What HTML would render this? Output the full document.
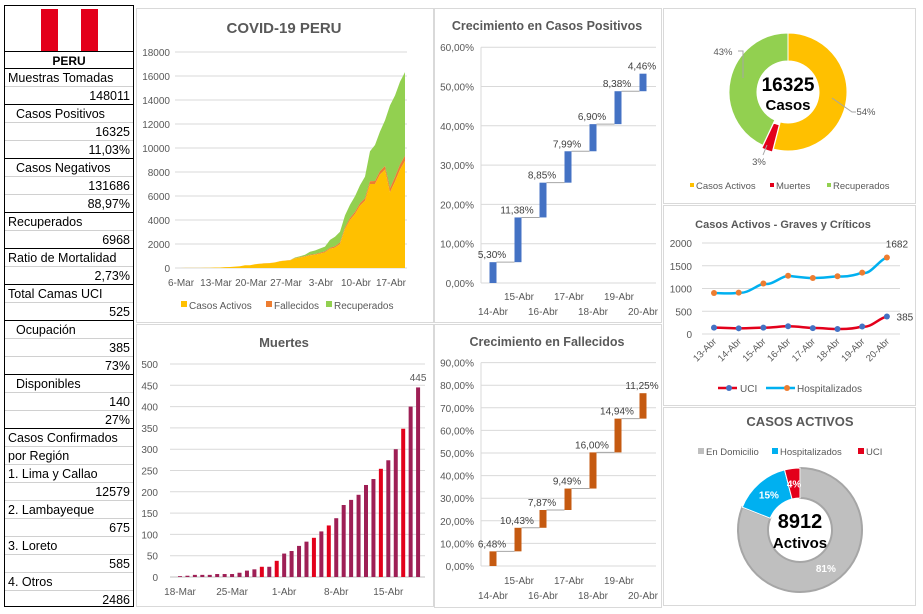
<!DOCTYPE html>
<html><head><meta charset="utf-8">
<style>
body{margin:0;width:923px;height:614px;background:#fff;overflow:hidden;font-family:"Liberation Sans",sans-serif;position:relative}
#tbl{position:absolute;left:4px;top:5px;width:130px;height:602px;border:1px solid #000;box-sizing:border-box}
.r{position:absolute;left:0;width:128px;height:18px;font-size:12.5px;line-height:18px;color:#000;box-sizing:border-box;padding:0 3px;border-top:1px solid #d0d0d0;white-space:nowrap}
.r.t{border-top:1.5px solid #000}
.r.v{text-align:right}
.r.i{padding-left:11px}
svg{position:absolute;left:0;top:0}
</style></head><body>
<div id="tbl">
  <div style="position:absolute;left:36px;top:3px;width:17px;height:42px;background:#e3001b"></div>
  <div style="position:absolute;left:53px;top:3px;width:23px;height:42px;background:#fff"></div>
  <div style="position:absolute;left:76px;top:3px;width:17px;height:42px;background:#e3001b"></div>
  <div class="r t" style="top:45px;text-align:center;font-weight:bold;font-size:12px">PERU</div>
</div>
<svg id="s" width="923" height="614"></svg>
<script>
const tableRows=[["Muestras Tomadas","t"],["148011","v"],["Casos Positivos","ti"],["16325","v"],["11,03%","v"],["Casos Negativos","ti"],["131686","v"],["88,97%","v"],["Recuperados","t"],["6968","v"],["Ratio de Mortalidad","t"],["2,73%","v"],["Total Camas UCI","t"],["525","v"],["Ocupación","ti"],["385","v"],["73%","v"],["Disponibles","ti"],["140","v"],["27%","v"],["Casos Confirmados","t"],["por Región","n"],["1. Lima y Callao","n"],["12579","v"],["2. Lambayeque","n"],["675","v"],["3. Loreto","n"],["585","v"],["4. Otros","n"],["2486","v"]];
const tbl=document.getElementById('tbl');
tableRows.forEach((r,i)=>{const d=document.createElement('div');
d.className='r'+(r[1].includes('t')?' t':'')+(r[1]==='v'?' v':'')+(r[1].includes('i')?' i':'');
d.style.top=(62+i*18)+'px';d.textContent=r[0];


tbl.appendChild(d);});

// ---------- data ----------
const areaDates=["6-Mar","13-Mar","20-Mar","27-Mar","3-Abr","10-Abr","17-Abr"];
const active=[1,6,7,9,11,17,22,38,43,71,85,116,143,230,227,310,355,385,405,465,560,610,640,800,880,950,1050,1100,1200,1300,1600,1700,2000,3250,4000,4500,5200,5600,7000,7000,7800,8200,6300,7200,8200,8912];
const fallecidos=[0,0,0,0,0,0,0,0,0,0,0,0,2,3,5,5,5,7,7,7,10,15,18,24,24,38,55,61,73,83,92,107,121,138,169,181,193,216,230,254,274,300,348,380,420,445];
const recuperados=[0,0,0,0,0,0,0,0,0,0,0,0,0,0,0,0,0,0,0,0,0,0,0,50,80,120,250,300,350,400,650,800,900,1000,1100,1300,1500,1800,2500,3000,3300,3800,6900,6800,6900,6968];
const areaTicks=[0,2000,4000,6000,8000,10000,12000,14000,16000,18000];

const deathDates=["18-Mar","25-Mar","1-Abr","8-Abr","15-Abr"];
const deaths=[2,3,5,5,5,7,7,7,10,15,18,24,24,38,55,61,73,83,92,107,121,138,169,181,193,216,230,254,274,300,348,400,445];
const deathRed=[0,0,0,0,0,0,0,0,0,0,0,1,0,1,0,0,0,0,1,0,1,0,0,0,0,0,0,1,0,0,1,0,0];
const deathTicks=[0,50,100,150,200,250,300,350,400,450,500];

const wfDates=["14-Abr","15-Abr","16-Abr","17-Abr","18-Abr","19-Abr","20-Abr"];
const posGrowth=[5.30,11.38,8.85,7.99,6.90,8.38,4.46];
const posTicks=[0,10,20,30,40,50,60];
const deadGrowth=[6.48,10.43,7.87,9.49,16.00,14.94,11.25];
const deadTicks=[0,10,20,30,40,50,60,70,80,90];

const pieLabels=["Casos Activos","Muertes","Recuperados"];
const pieValues=[54,3,43];
const pieColors=["#ffc000","#e3001b","#92d050"];

const lineDates=["13-Abr","14-Abr","15-Abr","16-Abr","17-Abr","18-Abr","19-Abr","20-Abr"];
const uci=[140,125,140,170,130,110,165,385];
const hosp=[900,910,1110,1280,1230,1270,1350,1682];
const lineTicks=[0,500,1000,1500,2000];

const actLabels=["En Domicilio","Hospitalizados","UCI"];
const actValues=[81,15,4];
const actColors=["#bfbfbf","#00b0f0","#e3001b"];

// ---------- helpers ----------
const S=document.getElementById('s');const NS='http://www.w3.org/2000/svg';
function el(tag,attrs,name,txt){const e=document.createElementNS(NS,tag);
for(const k in attrs)e.setAttribute(k,attrs[k]);


if(txt!==undefined)e.textContent=txt;S.appendChild(e);return e;}
function txt(x,y,s,size,anchor,name,extra){return el('text',Object.assign({x:x,y:y,'font-size':size,'text-anchor':anchor||'middle',fill:'#595959','font-family':'Liberation Sans, sans-serif'},extra||{}),name,s);}
function fmtPct(v){return v.toFixed(2).replace('.',',')+'%';}

// panels
[[136,8,297,314],[136,324,297,282],[434,8,227,314],[434,324,227,283],[663,8,252,195],[663,205,252,200],[663,407,252,198]].forEach(p=>{
el('rect',{x:p[0]+.5,y:p[1]+.5,width:p[2],height:p[3],fill:'#fff',stroke:'#d9d9d9'},'chart-panel');});

// ---------- area chart ----------
(function(){const x0=180,dx=5,y0=268,ky=24/2000;
const X=i=>x0+i*dx,Y=v=>y0-v*ky;
txt(284,33,'COVID-19 PERU',15,'middle','area-chart-title',{'font-weight':'bold'});
areaTicks.forEach(t=>{el('line',{x1:175,x2:407,y1:Y(t),y2:Y(t),stroke:'#d9d9d9'},'y-gridline');
txt(170,Y(t)+4,String(t),10,'end','y-tick-label');});
const n=active.length;const c1=[],c2=[],c3=[];
for(let i=0;i<n;i++){c1.push(active[i]);c2.push(active[i]+fallecidos[i]);c3.push(active[i]+fallecidos[i]+recuperados[i]);}
function band(top,bot,color,name){let d='M'+X(0)+','+Y(top[0]);for(let i=1;i<n;i++)d+='L'+X(i)+','+Y(top[i]);
for(let i=n-1;i>=0;i--)d+='L'+X(i)+','+Y(bot?bot[i]:0);el('path',{d:d+'Z',fill:color},name);}
band(c3,c2,'#92d050','area-recuperados');band(c2,c1,'#ed7d31','area-fallecidos');band(c1,null,'#ffc000','area-casos-activos');
areaDates.forEach((d,i)=>txt(X(i*7)+1,286,d,10,'middle','x-tick-label'));
[[181,'#ffc000','Casos Activos'],[266,'#ed7d31','Fallecidos'],[326,'#92d050','Recuperados']].forEach(l=>{
el('rect',{x:l[0],y:301,width:6,height:6,fill:l[1]},'legend-swatch');txt(l[0]+8,309,l[2],10,'start','legend-entry');});
})();

// ---------- deaths bar ----------
(function(){const x0=180,dx=7.44,y0=577,ky=21.3/50;
const X=i=>x0+i*dx,Y=v=>y0-v*ky;
txt(284,347,'Muertes',13,'middle','deaths-chart-title',{'font-weight':'bold'});
deathTicks.forEach(t=>{if(t>0)el('line',{x1:170,x2:425,y1:Y(t),y2:Y(t),stroke:'#d9d9d9'},'y-gridline');
txt(158,Y(t)+4,String(t),10,'end','y-tick-label');});
el('line',{x1:170,x2:425,y1:y0,y2:y0,stroke:'#bfbfbf'},'x-axis');
deaths.forEach((v,i)=>el('rect',{x:X(i)-2,y:Y(v),width:4,height:v*ky,fill:deathRed[i]?'#e3001b':'#9e1f55'},'death-bar'));
txt(X(deaths.length-1),381,String(deaths[deaths.length-1]),10,'middle','last-value-label');
deathDates.forEach((d,i)=>txt(X(i*7),595,d,10,'middle','x-tick-label'));
})();

// ---------- waterfalls ----------
function waterfall(vals,ticks,title,tY,y0,k,color,lblY1,name){
const X=i=>493+i*25,Y=v=>y0-v*k;
txt(547,tY,title,12.5,'middle',name+'-title',{'font-weight':'bold'});
ticks.forEach(t=>{el('line',{x1:481,x2:656,y1:Y(t),y2:Y(t),stroke:'#d9d9d9'},'y-gridline');
txt(474,Y(t)+4,t.toFixed(2).replace('.',',')+'%',10,'end','y-tick-label');});
el('line',{x1:481,x2:481,y1:Y(ticks[ticks.length-1]),y2:y0,stroke:'#d9d9d9'},'y-axis');
let cum=0;vals.forEach((v,i)=>{const b=cum;cum+=v;
el('rect',{x:X(i)-3.5,y:Y(cum),width:7,height:v*k,fill:color},name+'-bar');
if(i<vals.length-1)el('line',{x1:X(i)+3.5,x2:X(i+1)-3.5,y1:Y(cum),y2:Y(cum),stroke:'#a6a6a6'},'connector');
txt(X(i)-1,Y(cum)-4,fmtPct(v),10,'middle','value-label',{fill:'#404040'});});
wfDates.forEach((d,i)=>txt(X(i)+(i%2?1:0),i%2?lblY1:lblY1+15,d,10,'middle','x-tick-label'));}
waterfall(posGrowth,posTicks,'Crecimiento en Casos Positivos',30,283,3.93,'#4472c4',300,'positivos');
waterfall(deadGrowth,deadTicks,'Crecimiento en Fallecidos',346,566,2.26,'#c55a11',584,'fallecidos');

// ---------- donuts ----------
function arc(cx,cy,r0,r1,a0,a1){const p=(r,a)=>[cx+r*Math.sin(a),cy-r*Math.cos(a)];const L=a1-a0>Math.PI?1:0;
const A=p(r1,a0),B=p(r1,a1),C=p(r0,a1),D=p(r0,a0);
return 'M'+A+'A'+r1+','+r1+' 0 '+L+' 1 '+B+'L'+C+'A'+r0+','+r0+' 0 '+L+' 0 '+D+'Z';}
(function(){const cx=788,cy=92;let a=0;const tot=pieValues.reduce((s,v)=>s+v,0);
pieValues.forEach((v,i)=>{const a1=a+v/tot*2*Math.PI;let ox=0,oy=0;
if(i===1){const m=(a+a1)/2;ox=3*Math.sin(m);oy=-3*Math.cos(m);}
el('path',{d:arc(cx+ox,cy+oy,31,59,a,a1),fill:pieColors[i],stroke:'#fff','stroke-width':1},'pie-slice');a=a1;});
txt(cx,91,'16325',19,'middle','donut-center-value',{'font-weight':'bold',fill:'#000'});
txt(cx,110,'Casos',15,'middle','donut-center-label',{'font-weight':'bold',fill:'#000'});
txt(723,55,pieValues[2]+'%',9.5,'middle','slice-label');
el('polyline',{points:'738,51 743,51 743,78',fill:'none',stroke:'#a6a6a6'},'leader-line');
txt(866,115,pieValues[0]+'%',9.5,'middle','slice-label');
el('polyline',{points:'832,98 852,112 856,112',fill:'none',stroke:'#a6a6a6'},'leader-line');
txt(759,165,pieValues[1]+'%',9.5,'middle','slice-label');
el('line',{x1:763,y1:155,x2:767,y2:145,stroke:'#a6a6a6'},'leader-line');
[[690,0],[770,1],[827,2]].forEach(l=>{el('rect',{x:l[0],y:183,width:4,height:4,fill:pieColors[l[1]]},'legend-swatch');
txt(l[0]+6,189,pieLabels[l[1]],9.5,'start','legend-entry');});
})();
(function(){const cx=800,cy=530;let a=0;const tot=actValues.reduce((s,v)=>s+v,0);
const lp=[[0.55,48],[0.5,46],[0.5,46]];
actValues.forEach((v,i)=>{const a1=a+v/tot*2*Math.PI;
el('path',{d:arc(cx,cy,32,62,a,a1),fill:actColors[i],stroke:i===0?'#a6a6a6':'#fff','stroke-width':i===0?2:1},'active-slice');
const m=(a+a1)/2;const r=i===0?46:47;
txt(cx+r*Math.sin(m),cy-r*Math.cos(m)+4,v+'%',10,'middle','slice-label',{fill:'#fff','font-weight':'bold'});a=a1;});
txt(800,426,'CASOS ACTIVOS',13,'middle','active-chart-title',{'font-weight':'bold'});
txt(cx,528,'8912',20,'middle','donut-center-value',{'font-weight':'bold',fill:'#000'});
txt(cx,548,'Activos',15,'middle','donut-center-label',{'font-weight':'bold',fill:'#000'});
[[698,0],[772,1],[858,2]].forEach(l=>{el('rect',{x:l[0],y:448,width:6,height:6,fill:actColors[l[1]]},'legend-swatch');
txt(l[0]+8,455,actLabels[l[1]],9.5,'start','legend-entry');});
})();

// ---------- lines ----------
(function(){const x0=714,dx=24.7,y0=334,ky=22.75/500;
const X=i=>x0+i*dx,Y=v=>y0-v*ky;
txt(783,228,'Casos Activos - Graves y Críticos',11,'middle','line-chart-title',{'font-weight':'bold'});
lineTicks.forEach(t=>{el('line',{x1:702,x2:900,y1:Y(t),y2:Y(t),stroke:'#d9d9d9'},'y-gridline');
txt(692,Y(t)+4,String(t),10,'end','y-tick-label');});
function smooth(vals){let d='M'+X(0)+','+Y(vals[0]);for(let i=0;i<vals.length-1;i++){
const p0=i?vals[i-1]:vals[i],p3=i+2<vals.length?vals[i+2]:vals[i+1];
const c1y=Y(vals[i])-(Y(vals[i+1])-Y(p0))/6,c2y=Y(vals[i+1])-(Y(p3)-Y(vals[i]))/6;
d+='C'+(X(i)+dx/3)+','+c1y+' '+(X(i+1)-dx/3)+','+c2y+' '+X(i+1)+','+Y(vals[i+1]);}return d;}
el('path',{d:smooth(hosp),fill:'none',stroke:'#00b0f0','stroke-width':2.5},'line-hospitalizados');
el('path',{d:smooth(uci),fill:'none',stroke:'#e3001b','stroke-width':2.5},'line-uci');
hosp.forEach((v,i)=>el('circle',{cx:X(i),cy:Y(v),r:3,fill:'#ed7d31'},'point-hospitalizados'));
uci.forEach((v,i)=>el('circle',{cx:X(i),cy:Y(v),r:3,fill:'#4472c4'},'point-uci'));
txt(X(7)+10,Y(hosp[7])-10,String(hosp[7]),10,'middle','last-value-label',{fill:'#404040'});
txt(X(7)+18,Y(uci[7])+4,String(uci[7]),10,'middle','last-value-label',{fill:'#404040'});
lineDates.forEach((d,i)=>txt(X(i)+3,342,d,9.5,'end','x-tick-label',{transform:'rotate(-45 '+(X(i)+3)+' 342)'}));
el('line',{x1:718,x2:737,y1:388,y2:388,stroke:'#e3001b','stroke-width':2.5},'legend-line-uci');
el('circle',{cx:729,cy:388,r:3,fill:'#4472c4'},'legend-marker');
txt(740,392,'UCI',10,'start','legend-entry');
el('line',{x1:766,x2:795,y1:388,y2:388,stroke:'#00b0f0','stroke-width':2.5},'legend-line-hosp');
el('circle',{cx:787,cy:388,r:3,fill:'#ed7d31'},'legend-marker');
txt(797,392,'Hospitalizados',10,'start','legend-entry');
})();
</script>
</body></html>
